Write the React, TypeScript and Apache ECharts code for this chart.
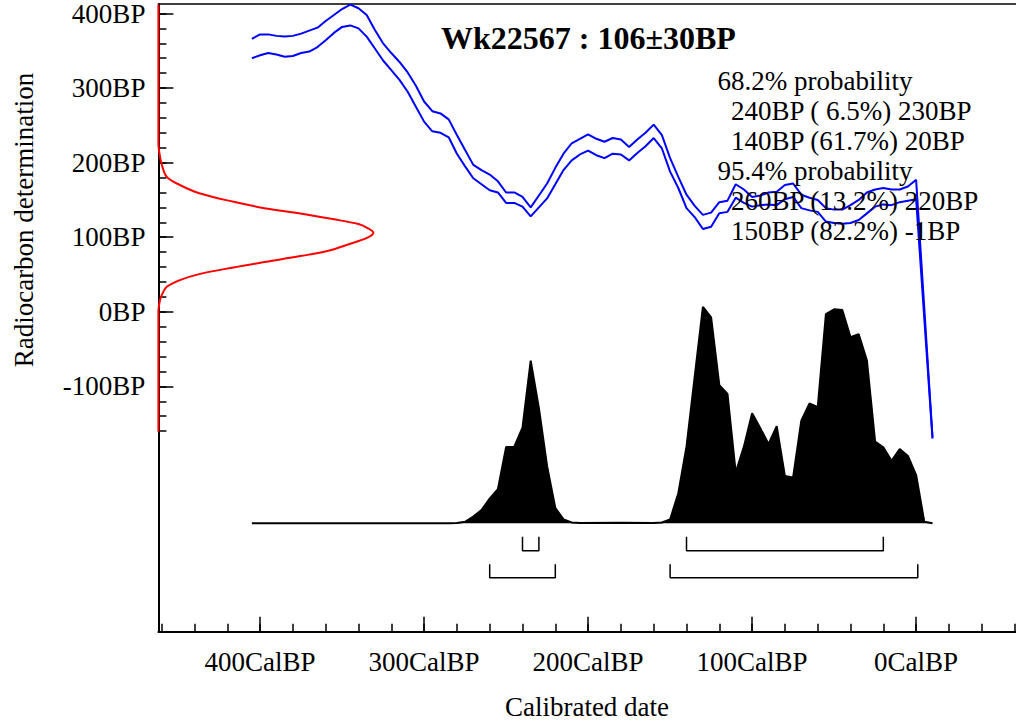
import React, { useEffect, useRef } from "react";
import * as echarts from "echarts";

// Calibration curve (IntCal band, mean ± 1σ), calendar ages in cal BP
const calAge = [
  405, 400, 395, 390, 385, 380, 375, 370, 365, 360, 355, 350, 345, 340, 335, 330,
  325, 320, 315, 310, 305, 300, 295, 290, 285, 280, 275, 270, 265, 260, 255, 250,
  245, 240, 235, 230, 225, 220, 215, 210, 205, 200, 195, 190, 185, 180, 175, 170,
  165, 160, 155, 150, 145, 140, 135, 130, 125, 120, 115, 110, 105, 100, 95, 90,
  85, 80, 75, 70, 65, 60, 55, 50, 45, 40, 35, 30, 25, 20, 15, 10, 5, 0, -10,
];
const curveUpper = [
  366, 372, 372, 370, 369, 370, 373, 377, 381, 390, 398, 406, 412, 407, 398, 378,
  360, 347, 335, 321, 303, 282, 269, 266, 258, 237, 217, 197, 190, 184, 175, 160,
  160, 154, 140, 156, 172, 193, 212, 226, 232, 238, 232, 228, 233, 231, 221, 231,
  240, 251, 237, 206, 181, 157, 142, 130, 133, 147, 149, 171, 164, 154, 156, 160,
  161, 170, 172, 157, 153, 150, 139, 137, 137, 143, 150, 160, 164, 166, 164, 164, 168, 177, -168,
];
const curveLower = [
  340, 344, 347, 345, 342, 343, 347, 349, 355, 364, 374, 382, 384, 380, 369, 353,
  337, 324, 311, 295, 275, 255, 242, 240, 234, 212, 195, 179, 171, 163, 160, 146,
  146, 141, 128, 140, 152, 171, 190, 203, 211, 216, 210, 206, 212, 211, 203, 213,
  222, 233, 219, 188, 166, 139, 127, 111, 114, 132, 134, 153, 146, 141, 143, 144,
  143, 151, 154, 139, 136, 134, 121, 119, 118, 119, 123, 132, 141, 144, 143, 147, 149, 151, -170,
];

// Calibrated probability distribution (relative to its maximum)
const probAge = [
  405, 285, 280, 275, 270, 265, 260, 255, 250, 245, 240, 235, 230, 225, 220, 215,
  210, 205, 180, 160, 155, 150, 145, 140, 135, 130, 125, 120, 115, 110, 105, 100,
  95, 90, 85, 80, 75, 70, 65, 60, 55, 50, 45, 40, 35, 30, 25, 20, 15, 10, 5, 0, -5, -10,
];
const probDensity = [
  0, 0, 0.002, 0.007, 0.031, 0.061, 0.114, 0.158, 0.352, 0.354, 0.442, 0.751, 0.532, 0.264, 0.071, 0.018,
  0.004, 0.002, 0.003, 0.002, 0.004, 0.018, 0.139, 0.354, 0.677, 1.0, 0.951, 0.638, 0.597, 0.234, 0.354, 0.508,
  0.439, 0.366, 0.449, 0.218, 0.212, 0.474, 0.554, 0.536, 0.966, 0.988, 0.985, 0.859, 0.873, 0.751, 0.377, 0.351,
  0.289, 0.343, 0.311, 0.223, 0.007, 0,
];

// Radiocarbon measurement 106±30BP, drawn along the radiocarbon axis
const measBP = [
  412, 226, 208, 195, 181, 170, 159, 147.5, 138.6, 131.9, 124.3, 117.6, 112, 106, 99,
  91, 81.8, 74.7, 67, 59.5, 50.5, 42.5, 33.5, 24, 15.7, 0, -161,
];
const measDensity = [
  0, 0, 0.0075, 0.018, 0.039, 0.1, 0.19, 0.35, 0.5, 0.66, 0.81, 0.93, 0.975, 1.0, 0.97,
  0.89, 0.79, 0.66, 0.5, 0.35, 0.19, 0.1, 0.039, 0.018, 0.0075, 0, 0,
];

// Highest posterior density ranges (cal BP, from..to)
const range68 = [
  [240, 230],
  [140, 20],
];
const range95 = [
  [260, 220],
  [150, -1],
];

// Axis ticks
const bpMajorTicks = [400, 300, 200, 100, 0, -100];
const bpMinorTicks = [
  400, 380, 360, 340, 320, 300, 280, 260, 240, 220, 200, 180, 160, 140, 120, 100,
  80, 60, 40, 20, 0, -20, -40, -60, -80, -100, -120, -140, -160,
];
const calMajorTicks = [400, 300, 200, 100, 0];
const calMinorTicks = [
  460, 440, 420, 400, 380, 360, 340, 320, 300, 280, 260, 240, 220, 200, 180, 160,
  140, 120, 100, 80, 60, 40, 20, 0, -20, -40, -60,
];

const titleText = "Wk22567 : 106±30BP";
const summaryLines = [
  { text: "68.2% probability", heading: true },
  { text: "240BP ( 6.5%) 230BP", heading: false },
  { text: "140BP (61.7%) 20BP", heading: false },
  { text: "95.4% probability", heading: true },
  { text: "260BP (13.2%) 220BP", heading: false },
  { text: "150BP (82.2%) -1BP", heading: false },
];
const yAxisTitle = "Radiocarbon determination";
const xAxisTitle = "Calibrated date";

const FONT = '"Liberation Serif", "Times New Roman", serif';
const GRID_LEFT = 158.4;
const GRID_TOP = 4;
const GRID_W = 857.6;
const GRID_H = 627.7;
const MEAS_WIDTH_PX = 215;

function bracketSeries(ranges: number[][], top: number, bottom: number) {
  return ranges.map(([a, b]) => ({
    type: "line",
    xAxisIndex: 0,
    yAxisIndex: 2,
    symbol: "none",
    silent: true,
    clip: false,
    lineStyle: { color: "#000", width: 1.5 },
    data: [
      [a, top],
      [a, bottom],
      [b, bottom],
      [b, top],
    ],
    z: 4,
  }));
}

export default function App() {
  const ref = useRef<HTMLDivElement>(null);

  useEffect(() => {
    document.body.style.margin = "0";
    if (!ref.current) return;
    const chart = echarts.init(ref.current, null, { renderer: "svg" });

    const calAxisBase = {
      type: "value",
      gridIndex: 0,
      inverse: true,
      min: -60.9,
      max: 462,
      offset: 0,
      splitLine: { show: false },
    };
    const bpAxisBase = {
      type: "value",
      gridIndex: 0,
      min: -429,
      max: 412.5,
      position: "left",
      offset: 0,
      splitLine: { show: false },
    };

    const option = {
      animation: false,
      backgroundColor: "#fff",
      grid: [
        {
          left: GRID_LEFT,
          top: GRID_TOP,
          width: GRID_W,
          height: GRID_H,
        },
      ],
      xAxis: [
        {
          ...calAxisBase,
          position: "bottom",
          axisLine: { show: true, onZero: false, lineStyle: { color: "#000", width: 2 } },
          axisTick: {
            show: true,
            inside: true,
            length: 15,
            customValues: calMajorTicks,
            lineStyle: { color: "#000", width: 1.5 },
          },
          axisLabel: {
            show: true,
            customValues: calMajorTicks,
            formatter: (v: number) => `${v}CalBP`,
            color: "#000",
            fontFamily: FONT,
            fontSize: 27,
            margin: 17,
          },
        },
        {
          ...calAxisBase,
          position: "bottom",
          axisLine: { show: false, onZero: false },
          axisTick: {
            show: true,
            inside: true,
            length: 8,
            customValues: calMinorTicks,
            lineStyle: { color: "#000", width: 1.5 },
          },
          axisLabel: { show: false },
        },
        {
          type: "value",
          gridIndex: 0,
          min: 0,
          max: GRID_W / MEAS_WIDTH_PX,
          show: false,
          axisLine: { onZero: false },
          splitLine: { show: false },
        },
        {
          // top frame line of the plot
          ...calAxisBase,
          position: "top",
          axisLine: { show: true, onZero: false, lineStyle: { color: "#000", width: 1.5 } },
          axisTick: { show: false },
          axisLabel: { show: false },
        },
      ],
      yAxis: [
        {
          ...bpAxisBase,
          axisLine: { show: true, onZero: false, lineStyle: { color: "#000", width: 2 } },
          axisTick: {
            show: true,
            inside: true,
            length: 15,
            customValues: bpMajorTicks,
            lineStyle: { color: "#000", width: 1.5 },
          },
          axisLabel: {
            show: true,
            customValues: bpMajorTicks,
            formatter: (v: number) => `${v}BP`,
            color: "#000",
            fontFamily: FONT,
            fontSize: 27,
            margin: 13,
          },
        },
        {
          ...bpAxisBase,
          axisLine: { show: false, onZero: false },
          axisTick: {
            show: true,
            inside: true,
            length: 8,
            customValues: bpMinorTicks,
            lineStyle: { color: "#000", width: 1.5 },
          },
          axisLabel: { show: false },
        },
        {
          type: "value",
          gridIndex: 0,
          min: -0.5004,
          max: 2.397,
          show: false,
          axisLine: { onZero: false },
          splitLine: { show: false },
        },
      ],
      series: [
        {
          name: "Probability",
          type: "line",
          xAxisIndex: 0,
          yAxisIndex: 2,
          symbol: "none",
          silent: true,
          lineStyle: { color: "#000", width: 2 },
          areaStyle: { color: "#000", opacity: 1 },
          data: probAge.map((a, i) => [a, probDensity[i]]),
          z: 2,
        },
        {
          name: "Curve upper",
          type: "line",
          xAxisIndex: 0,
          yAxisIndex: 0,
          symbol: "none",
          silent: true,
          clip: false,
          lineStyle: { color: "#0000ff", width: 2 },
          data: calAge.map((a, i) => [a, curveUpper[i]]),
          z: 3,
        },
        {
          name: "Curve lower",
          type: "line",
          xAxisIndex: 0,
          yAxisIndex: 0,
          symbol: "none",
          silent: true,
          clip: false,
          lineStyle: { color: "#0000ff", width: 2 },
          data: calAge.map((a, i) => [a, curveLower[i]]),
          z: 3,
        },
        {
          name: "Measurement",
          type: "line",
          xAxisIndex: 2,
          yAxisIndex: 0,
          symbol: "none",
          silent: true,
          clip: false,
          smooth: 0.35,
          lineStyle: { color: "#ff0000", width: 2 },
          data: measDensity.map((d, i) => [d, measBP[i]]),
          z: 5,
        },
        ...bracketSeries(range68, -0.062, -0.1265),
        ...bracketSeries(range95, -0.189, -0.251),
      ],
      graphic: [
        {
          type: "text",
          x: 441,
          y: 38,
          style: {
            text: titleText,
            font: `bold 32px ${FONT}`,
            fill: "#000",
            align: "left",
            verticalAlign: "middle",
          },
          z: 10,
        },
        ...summaryLines.map((line, i) => ({
          type: "text",
          x: line.heading ? 717.5 : 731,
          y: 80.5 + i * 30,
          style: {
            text: line.text,
            font: `27px ${FONT}`,
            fill: "#000",
            align: "left",
            verticalAlign: "middle",
          },
          z: 10,
        })),
        {
          type: "text",
          x: 24,
          y: 220,
          rotation: Math.PI / 2,
          style: {
            text: yAxisTitle,
            font: `27px ${FONT}`,
            fill: "#000",
            align: "center",
            verticalAlign: "middle",
          },
        },
        {
          type: "text",
          x: 587,
          y: 707,
          style: {
            text: xAxisTitle,
            font: `27px ${FONT}`,
            fill: "#000",
            align: "center",
            verticalAlign: "middle",
          },
        },
      ],
    };

    chart.setOption(option as any);
    return () => chart.dispose();
  }, []);

  return <div ref={ref} style={{ width: 1016, height: 728 }} />;
}
